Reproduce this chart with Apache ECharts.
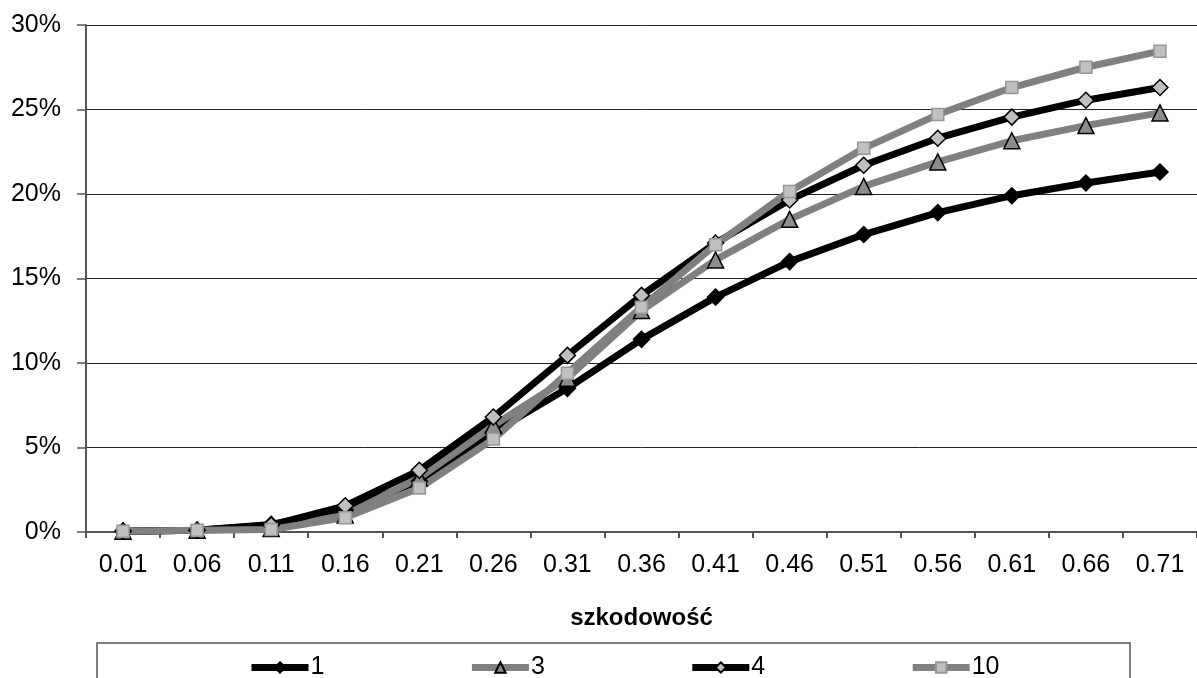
<!DOCTYPE html>
<html>
<head>
<meta charset="utf-8">
<script src="https://cdn.jsdelivr.net/npm/echarts@6/dist/echarts.min.js"></script>
<style>
html,body{margin:0;padding:0;background:#fff;}
#chart{width:1197px;height:678px;}
</style>
</head>
<body>
<div id="chart"></div>
<script>
var categories = ['0.01','0.06','0.11','0.16','0.21','0.26','0.31','0.36','0.41','0.46','0.51','0.56','0.61','0.66','0.71'];
var seriesNames = ['1','3','4','10'];
var s1  = [0.05, 0.1, 0.45, 1.3, 3.0, 5.9, 8.5, 11.4, 13.9, 16.0, 17.6, 18.9, 19.9, 20.65, 21.3];
var s3  = [0.05, 0.1, 0.2, 1.0, 3.2, 6.3, 9.1, 13.1, 16.1, 18.5, 20.45, 21.9, 23.15, 24.05, 24.8];
var s4  = [0.05, 0.1, 0.4, 1.55, 3.65, 6.8, 10.45, 14.0, 17.1, 19.65, 21.7, 23.3, 24.55, 25.55, 26.3];
var s10 = [0.05, 0.1, 0.15, 0.85, 2.6, 5.5, 9.4, 13.3, 17.0, 20.15, 22.7, 24.7, 26.3, 27.5, 28.45];
var xTitle = 'szkodowość';

var FONT = "'Liberation Sans', Arial, sans-serif";
var chart = echarts.init(document.getElementById('chart'), null, {renderer:'canvas'});

function mk(name, data, lineColor, symbol, size, fill, border) {
  return {
    name: name, type: 'line', data: data,
    symbol: symbol, symbolSize: size,
    lineStyle: {color: lineColor, width: 7},
    itemStyle: {color: fill, borderColor: border, borderWidth: 1.5},
    emphasis: {disabled: true},
    animation: false
  };
}
var lineColors = ['#000', '#808080', '#000', '#808080'];
var legendData = seriesNames.map(function (n, i) {
  return {name: n, lineStyle: {width: 7, color: lineColors[i]}};
});

chart.setOption({
  animation: false,
  backgroundColor: '#fff',
  grid: {left: 86, top: 25, right: -8, bottom: 146, containLabel: false},
  xAxis: {
    type: 'category', data: categories, boundaryGap: true,
    name: xTitle, nameLocation: 'middle', nameGap: 74,
    nameTextStyle: {fontFamily: FONT, fontSize: 24, fontWeight: 'bold', color: '#000'},
    axisLine: {lineStyle: {color: '#555', width: 2}},
    axisTick: {show: true, length: 6, lineStyle: {color: '#555', width: 2}},
    axisLabel: {fontFamily: FONT, fontSize: 25, color: '#000', margin: 21}
  },
  yAxis: {
    type: 'value', min: 0, max: 30, interval: 5,
    axisLine: {show: true, lineStyle: {color: '#555', width: 2}},
    axisTick: {show: true, length: 9, lineStyle: {color: '#555', width: 1.5}},
    axisLabel: {fontFamily: FONT, fontSize: 25, color: '#000', margin: 25, formatter: '{value}%'},
    splitLine: {lineStyle: {color: '#222', width: 1}}
  },
  legend: {
    data: legendData,
    top: 650, left: 243,
    itemWidth: 57, itemHeight: 13, itemGap: 144,
    textStyle: {fontFamily: FONT, fontSize: 25, color: '#000', padding: [0,0,0,-3]}
  },
  graphic: [{
    type: 'rect', shape: {x: 97, y: 643, width: 1033, height: 60},
    style: {fill: 'none', stroke: '#555', lineWidth: 1.5}, silent: true, z: 0
  }],
  series: [
    mk('1', s1, '#000', 'diamond', 16, '#000', '#000'),
    mk('3', s3, '#808080', 'triangle', 16, '#8c8c8c', '#000'),
    mk('4', s4, '#000', 'diamond', 16, '#c0c0c0', '#000'),
    mk('10', s10, '#808080', 'rect', 12, '#c0c0c0', '#969696')
  ]
});
</script>
</body>
</html>
